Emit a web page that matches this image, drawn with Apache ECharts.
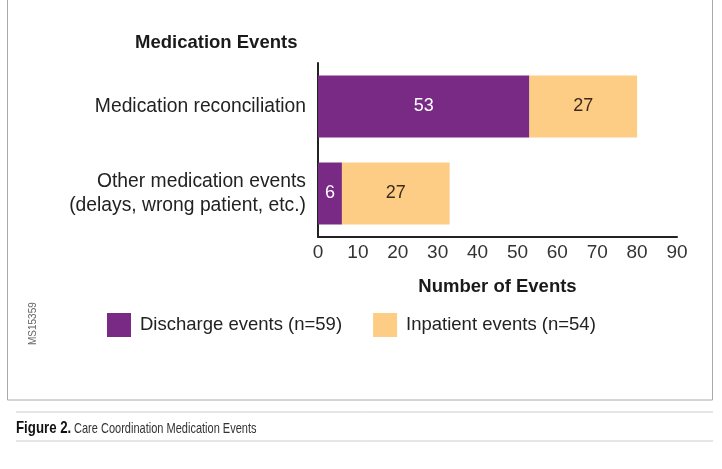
<!DOCTYPE html>
<html><head><meta charset="utf-8">
<script src="https://cdn.jsdelivr.net/npm/echarts@6/dist/echarts.min.js"></script>
<style>html,body{margin:0;padding:0;background:#fff;}#c{width:722px;height:469px;}</style>
</head><body><div id="c"></div>
<script>
const categories = ['Medication reconciliation', 'Other medication events\n(delays, wrong patient, etc.)'];
const dischargeValues = [53, 6];
const inpatientValues = [27, 27];
const seriesNames = ['Discharge events (n=59)', 'Inpatient events (n=54)'];
const xTicks = [0, 90, 10];

const chart = echarts.init(document.getElementById('c'), null, {renderer: 'canvas'});
const font = 'Liberation Sans, Arial, sans-serif';
chart.setOption({
  animation: false,
  title: {
    text: 'Medication Events', left: 135, top: 33, padding: 0,
    textStyle: {fontFamily: font, fontWeight: 'bold', fontSize: 18.5, color: '#1a1a1a'}
  },
  legend: {
    left: 107, top: 313, padding: 0, itemWidth: 24, itemHeight: 24, itemGap: 31,
    icon: 'rect',
    textStyle: {fontFamily: font, fontSize: 18.5, color: '#222', padding: [0, 0, 0, 4]},
    data: seriesNames
  },
  grid: {left: 318, right: 45, top: 63, bottom: 232, containLabel: false},
  xAxis: {
    type: 'value', min: xTicks[0], max: xTicks[1], interval: xTicks[2],
    name: 'Number of Events', nameLocation: 'middle', nameGap: 40,
    nameTextStyle: {fontFamily: font, fontWeight: 'bold', fontSize: 18.5, color: '#1a1a1a'},
    axisLine: {show: true, lineStyle: {color: '#222', width: 2}},
    axisTick: {show: false},
    splitLine: {show: false},
    axisLabel: {fontFamily: font, fontSize: 19, color: '#333', margin: 6}
  },
  yAxis: {
    type: 'category', data: categories, inverse: true,
    axisLine: {show: true, lineStyle: {color: '#222', width: 2}},
    axisTick: {show: false},
    axisLabel: {fontFamily: font, fontSize: 19.3, color: '#222', margin: 12, lineHeight: 24, align: 'right'}
  },
  series: [
    {
      name: seriesNames[0], type: 'bar', stack: 'a', data: dischargeValues, barWidth: 62,
      itemStyle: {color: '#782A85'},
      label: {show: true, position: 'inside', color: '#fff', fontFamily: font, fontSize: 18}
    },
    {
      name: seriesNames[1], type: 'bar', stack: 'a', data: inpatientValues, barWidth: 62,
      itemStyle: {color: '#FDCD85'},
      label: {show: true, position: 'inside', color: '#3b2a1c', fontFamily: font, fontSize: 18}
    }
  ],
  graphic: [
    {type: 'rect', shape: {x: 7.5, y: -2, width: 705, height: 402}, style: {fill: 'none', stroke: '#aaa', lineWidth: 1}, silent: true},
    {type: 'text', x: 33, y: 345, rotation: Math.PI / 2, style: {text: 'MS15359', fontFamily: font, fontSize: 10, fill: '#666', align: 'left', verticalAlign: 'middle'}},
    {type: 'line', shape: {x1: 16, y1: 412, x2: 713, y2: 412}, style: {stroke: '#ccc', lineWidth: 1}},
    {type: 'line', shape: {x1: 16, y1: 441, x2: 713, y2: 441}, style: {stroke: '#ccc', lineWidth: 1}},
    {type: 'text', x: 16, y: 428, scaleX: 0.78, style: {
      text: 'Figure 2.', verticalAlign: 'middle',
      fontFamily: font, fontWeight: 'bold', fontSize: 17, fill: '#111'
    }},
    {type: 'text', x: 74, y: 429, scaleX: 0.76, style: {
      text: 'Care Coordination Medication Events', verticalAlign: 'middle',
      fontFamily: font, fontSize: 14.5, fill: '#333'
    }}
  ]
});
</script></body></html>
